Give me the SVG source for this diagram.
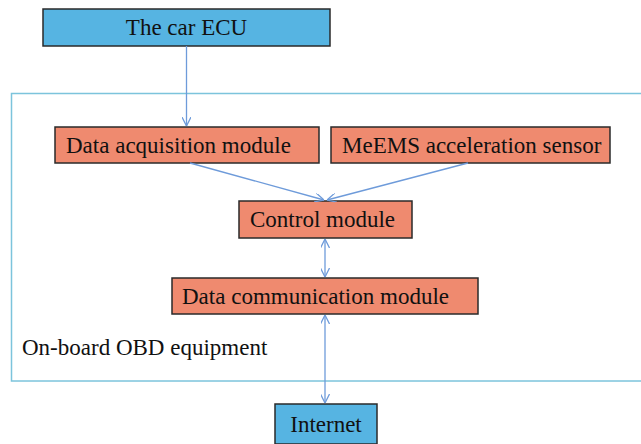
<svg xmlns="http://www.w3.org/2000/svg" width="641" height="444" viewBox="0 0 641 444">
<defs>
<style>
.blue{fill:#56B4E2;stroke:#2a2a2a;stroke-width:1.5}
.red{fill:#EF8A6F;stroke:#2a2a2a;stroke-width:1.5}
.t{font-family:"Liberation Serif","Times New Roman",serif;font-size:23px;fill:#111}
.c{fill:none;stroke:#6E9BDA;stroke-width:1.3}
</style>
<marker id="ah" viewBox="0 0 10 10" refX="10" refY="5" markerWidth="9" markerHeight="9" orient="auto-start-reverse" markerUnits="userSpaceOnUse">
<path d="M0,0 L10,5 L0,10" fill="none" stroke="#6E9BDA" stroke-width="1.4"/>
</marker>
</defs>
<rect width="641" height="444" fill="#fff"/>
<rect id="frame" x="11.5" y="93.5" width="640" height="287.5" fill="none" stroke="#7CC4DC" stroke-width="1.5"/>
<g id="ecu"><rect class="blue" x="43" y="9" width="287" height="37"/><text class="t" x="186.5" y="35" text-anchor="middle">The car ECU</text></g>
<g id="acq"><rect class="red" x="55" y="127" width="264" height="36"/><text class="t" x="66" y="153">Data acquisition module</text></g>
<g id="mems"><rect class="red" x="331" y="127" width="279" height="36"/><text class="t" x="342" y="153">MeEMS acceleration sensor</text></g>
<g id="control"><rect class="red" x="239" y="201" width="173" height="37"/><text class="t" x="250" y="227">Control module</text></g>
<g id="comm"><rect class="red" x="172" y="278" width="306" height="36"/><text class="t" x="182" y="304">Data communication module</text></g>
<g id="internet"><rect class="blue" x="275" y="404" width="102" height="40"/><text class="t" x="326" y="432" text-anchor="middle">Internet</text></g>
<text class="t" x="22" y="355">On-board OBD equipment</text>
<g id="connectors">
<line class="c" x1="186.5" y1="46" x2="186.5" y2="126" marker-end="url(#ah)"/>
<line class="c" x1="190" y1="163" x2="324" y2="200" marker-end="url(#ah)"/>
<line class="c" x1="468" y1="163" x2="327" y2="200" marker-end="url(#ah)"/>
<line class="c" x1="325" y1="239" x2="325" y2="277" marker-start="url(#ah)" marker-end="url(#ah)"/>
<line class="c" x1="325" y1="315" x2="325" y2="403" marker-start="url(#ah)" marker-end="url(#ah)"/>
</g>
</svg>
